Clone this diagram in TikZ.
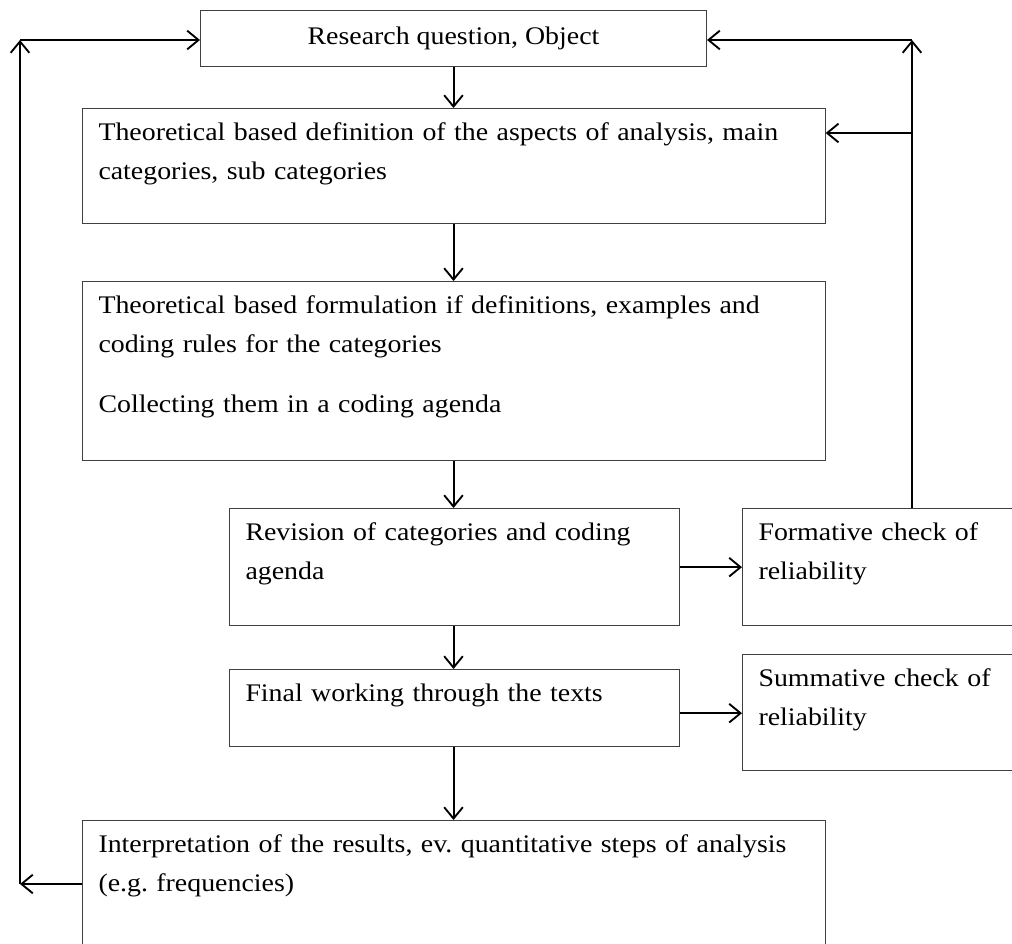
\documentclass[tikz,border=0pt]{standalone}
\usepackage{fontspec}
\setmainfont{Liberation Serif}[FakeStretch=1.1]
\usetikzlibrary{arrows.meta}
\frenchspacing

\tikzset{
  stage/.style={draw=black!75, line width=0.75pt, anchor=north west, align=left,
    inner xsep=12pt, inner ysep=3pt, text height=21pt,
    font=\fontsize{19}{29.25}\selectfont},
  flow/.style={->, line width=1.5pt},
  >={Straight Barb[length=8.5pt,width=14pt,line width=1.4pt]}
}

\begin{document}
\begin{tikzpicture}[x=0.75pt, y=-0.75pt]
    \useasboundingbox (0,0) rectangle (1012,943);
    \clip (0,0) rectangle (1012,943);
    \node (q) [draw=black!75, line width=0.75pt, anchor=north west, minimum width=379.5pt,
      minimum height=42pt, inner sep=0pt, font=\fontsize{19}{29.25}\selectfont]
      at (200,10) {Research question, Object};
    \node (def) [stage, text width=533pt, text depth=59pt] at (82,108)
      {Theoretical based definition of the aspects of analysis, main\\categories, sub categories};
    \node (form) [stage, text width=533pt, text depth=107pt] at (82,281)
      {Theoretical based formulation if definitions, examples and\\coding rules for the categories\\[15.75pt]
       Collecting them in a coding agenda};
    \node (rev) [stage, text width=313.5pt, text depth=61pt] at (229,508)
      {Revision of categories and coding\\agenda};
    \node (chk1) [stage, text width=230pt, text depth=61pt] at (742,508)
      {Formative check of\\reliability};
    \node (fin) [stage, text width=313.5pt, text depth=31pt] at (229,669)
      {Final working through the texts};
    \node (chk2) [stage, text width=230pt, text depth=60pt] at (742,654)
      {Summative check of\\reliability};
    \node (res) [stage, text width=533pt, text depth=72pt] at (82,820)
      {Interpretation of the results, ev. quantitative steps of analysis\\(e.g. frequencies)};

    \coordinate (ltop) at (20,40);
    \coordinate (lbot) at (20,884);
    \coordinate (rtop) at (912,40);
    \coordinate (rmid) at (912,133);

    % main chain
    \draw[flow] (q) -- (q |- def.north);
    \draw[flow] (q |- def.south) -- (q |- form.north);
    \draw[flow] (q |- form.south) -- (q |- rev.north);
    \draw[flow] (q |- rev.south) -- (q |- fin.north);
    \draw[flow] (q |- fin.south) -- (q |- res.north);
    \draw[flow] (rev.east) -- (rev.east -| chk1.west);
    \draw[flow] (fin.east) ++(0,5) coordinate (f2) -- (f2 -| chk2.west);

    % feedback loops
    \draw[flow] (res.west |- lbot) -- (lbot);
    \draw[flow] (lbot) -- (ltop);
    \draw[flow] (ltop) -- (q.west |- ltop);
    \draw[flow] (chk1.north -| rtop) -- (rtop);
    \draw[flow] (rtop) -- (q.east |- rtop);
    \draw[flow] (rmid) -- (def.east |- rmid);
\end{tikzpicture}
\end{document}
